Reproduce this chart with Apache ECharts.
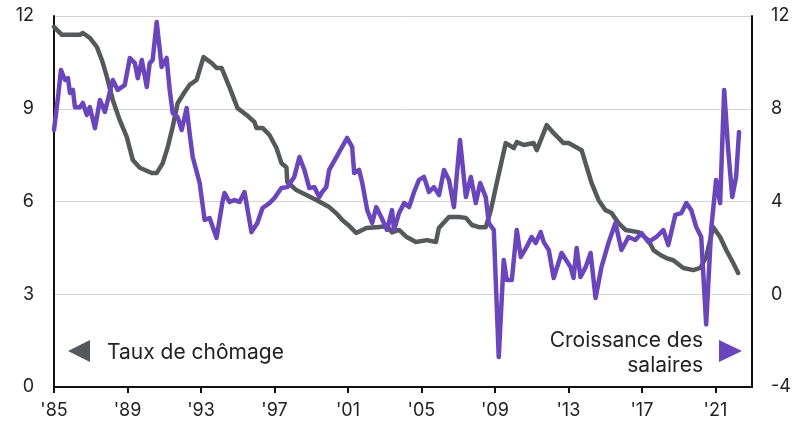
<!DOCTYPE html>
<html lang="fr">
<head>
<meta charset="UTF-8">
<title>Chômage et salaires</title>
<script src="https://cdn.jsdelivr.net/npm/echarts@6/dist/echarts.min.js"></script>
<style>
  html, body { margin: 0; padding: 0; background: #fff; }
  #main { width: 794px; height: 425px; }
</style>
</head>
<body>
<div id="main"></div>
<script>
// taux de chômage (axe gauche)
var chomageAnnees = [1985.0, 1985.43, 1986.41, 1986.57, 1986.95, 1987.33, 1987.61, 1987.88, 1988.2, 1988.58,
  1988.96, 1989.29, 1989.67, 1990.32, 1990.59, 1990.92, 1991.19, 1991.46, 1991.73, 1992.11,
  1992.38, 1992.76, 1993.14, 1993.58, 1993.85, 1994.12, 1994.55, 1994.99, 1995.48, 1995.91,
  1996.02, 1996.35, 1996.73, 1997.11, 1997.38, 1997.65, 1997.7, 1998.19, 1998.74, 1999.28,
  1999.98, 2000.4, 2000.69, 2001.0, 2001.45, 2002.0, 2002.54, 2003.13, 2003.4, 2003.78,
  2004.2, 2004.7, 2005.3, 2005.79, 2005.95, 2006.5, 2007.04, 2007.42, 2007.75, 2008.13,
  2008.5, 2008.78, 2009.1, 2009.59, 2010.03, 2010.19, 2010.57, 2011.11, 2011.28, 2011.82,
  2012.2, 2012.74, 2013.01, 2013.72, 2014.26, 2014.64, 2015.02, 2015.35, 2015.73, 2016.11,
  2016.81, 2017.36, 2017.63, 2018.01, 2018.33, 2018.71, 2019.26, 2019.8, 2020.18, 2020.5,
  2020.88, 2021.26, 2021.59, 2021.97, 2022.24];
var chomage = [11.65, 11.39, 11.39, 11.45, 11.29, 11.0, 10.57, 10.03, 9.28, 8.63,
  8.09, 7.34, 7.09, 6.92, 6.92, 7.24, 7.76, 8.41, 9.18, 9.54,
  9.77, 9.93, 10.67, 10.48, 10.32, 10.32, 9.7, 9.02, 8.8, 8.57,
  8.38, 8.38, 8.15, 7.73, 7.24, 7.11, 6.63, 6.37, 6.21, 6.05,
  5.82, 5.6, 5.4, 5.25, 4.98, 5.14, 5.17, 5.2, 5.0, 5.08,
  4.85, 4.69, 4.75, 4.69, 5.14, 5.5, 5.5, 5.47, 5.24, 5.17,
  5.17, 5.72, 6.6, 7.89, 7.73, 7.92, 7.83, 7.89, 7.66, 8.47,
  8.21, 7.89, 7.89, 7.66, 6.6, 6.05, 5.72, 5.63, 5.3, 5.08,
  5.01, 4.75, 4.43, 4.27, 4.17, 4.1, 3.85, 3.78, 3.85, 4.2,
  5.17, 4.85, 4.43, 4.01, 3.69];

// croissance des salaires (axe droit)
var salairesAnnees = [1985.0, 1985.22, 1985.38, 1985.6, 1985.76, 1985.87, 1986.03, 1986.14, 1986.41, 1986.57,
  1986.79, 1986.95, 1987.23, 1987.5, 1987.77, 1987.93, 1988.2, 1988.47, 1988.85, 1989.13,
  1989.4, 1989.56, 1989.78, 1990.05, 1990.21, 1990.37, 1990.59, 1990.86, 1991.13, 1991.3,
  1991.46, 1991.73, 1991.95, 1992.22, 1992.38, 1992.55, 1992.93, 1993.2, 1993.47, 1993.85,
  1994.17, 1994.28, 1994.55, 1994.83, 1995.1, 1995.37, 1995.75, 1996.07, 1996.35, 1996.73,
  1997.0, 1997.38, 1997.7, 1998.08, 1998.36, 1998.63, 1998.9, 1999.17, 1999.44, 1999.6,
  1999.82, 1999.98, 2000.96, 2001.23, 2001.34, 2001.61, 2001.78, 2002.05, 2002.32, 2002.54,
  2002.81, 2003.13, 2003.4, 2003.51, 2003.78, 2004.06, 2004.33, 2004.6, 2004.87, 2005.14,
  2005.41, 2005.68, 2005.96, 2006.23, 2006.5, 2006.77, 2007.1, 2007.42, 2007.69, 2007.96,
  2008.2, 2008.5, 2008.67, 2008.94, 2009.21, 2009.48, 2009.65, 2009.92, 2010.19, 2010.41,
  2010.73, 2011.0, 2011.22, 2011.49, 2011.66, 2011.93, 2012.2, 2012.63, 2013.12, 2013.28,
  2013.45, 2013.66, 2013.94, 2014.21, 2014.48, 2014.8, 2015.18, 2015.56, 2015.89, 2016.27,
  2016.65, 2016.98, 2017.36, 2017.79, 2018.17, 2018.44, 2018.82, 2019.15, 2019.42, 2019.69,
  2019.96, 2020.23, 2020.5, 2020.77, 2021.04, 2021.26, 2021.48, 2021.7, 2021.92, 2022.13,
  2022.29];
var salaires = [7.08, 8.51, 9.67, 9.24, 9.32, 8.68, 8.81, 8.07, 8.07, 8.25,
  7.73, 8.07, 7.16, 8.38, 7.86, 8.38, 9.24, 8.81, 9.02, 10.19,
  9.97, 9.32, 10.1, 8.94, 9.97, 10.1, 11.74, 9.8, 10.19, 8.81,
  7.82, 7.64, 7.08, 8.03, 6.95, 5.92, 4.8, 3.2, 3.29, 2.43,
  3.98, 4.37, 3.98, 4.06, 3.98, 4.41, 2.68, 3.07, 3.72, 3.93,
  4.15, 4.58, 4.62, 5.06, 5.92, 5.36, 4.58, 4.62, 4.19, 4.41,
  4.62, 5.36, 6.74, 6.35, 5.23, 5.36, 4.8, 3.63, 3.07, 3.76,
  3.33, 2.77, 3.63, 2.77, 3.5, 3.93, 3.76, 4.41, 4.93, 5.06,
  4.41, 4.62, 4.28, 5.36, 4.93, 3.76, 6.65, 4.19, 5.06, 3.93,
  4.8, 4.19, 3.07, 2.77, -2.71, 1.48, 0.61, 0.61, 2.77, 1.61,
  2.04, 2.47, 2.21, 2.68, 2.25, 1.91, 0.7, 1.78, 1.17, 0.7,
  1.99, 0.74, 1.17, 1.78, -0.16, 1.17, 2.21, 3.07, 1.91, 2.47,
  2.34, 2.64, 2.25, 2.47, 2.77, 2.12, 3.42, 3.5, 3.93, 3.63,
  2.9, 2.47, -1.3, 2.77, 4.93, 3.93, 8.81, 6.22, 4.19, 5.06,
  7.0];

var xMin = 1985, xMax = 2023, xStep = 4;
var gaucheTicks = [0, 3, 6, 9, 12];
var droiteTicks = [-4, 0, 4, 8, 12];

var gris = '#55595c';
var violet = '#6a45bb';
var police = 'Inter, "Noto Sans", sans-serif';

function paires(xs, ys) {
  var out = [];
  for (var i = 0; i < xs.length; i++) out.push([xs[i], ys[i]]);
  return out;
}

var myChart = echarts.init(document.getElementById('main'), null, { renderer: 'canvas' });

myChart.setOption({
  animation: false,
  backgroundColor: '#fff',
  grid: { left: 54, right: 41, top: 16, bottom: 38 },
  xAxis: {
    type: 'value',
    min: xMin, max: xMax, interval: xStep,
    axisLine: { show: true, lineStyle: { color: '#111', width: 2 } },
    axisTick: { show: true, length: 6, lineStyle: { color: '#111', width: 2 } },
    splitLine: { show: false },
    axisLabel: {
      showMaxLabel: false,
      margin: 15,
      fontSize: 18, color: '#222', fontFamily: police,
      formatter: function (v) { return "'" + String(v).slice(2); }
    }
  },
  yAxis: [{
    type: 'value',
    min: gaucheTicks[0], max: gaucheTicks[gaucheTicks.length - 1], interval: 3,
    axisLine: { show: true, lineStyle: { color: '#111', width: 2 } },
    axisTick: { show: false },
    splitLine: { show: true, lineStyle: { color: '#d3d3d3', width: 1 } },
    axisLabel: { margin: 20, fontSize: 18, color: '#222', fontFamily: police }
  }, {
    type: 'value',
    position: 'right',
    min: droiteTicks[0], max: droiteTicks[droiteTicks.length - 1], interval: 4,
    axisLine: { show: true, lineStyle: { color: '#111', width: 2 } },
    axisTick: { show: false },
    splitLine: { show: false },
    axisLabel: { margin: 19, fontSize: 18, color: '#222', fontFamily: police }
  }],
  series: [{
    name: 'Taux de chômage',
    type: 'line',
    yAxisIndex: 0,
    showSymbol: false,
    lineStyle: { color: gris, width: 4.5, join: 'round', cap: 'round' },
    data: paires(chomageAnnees, chomage)
  }, {
    name: 'Croissance des salaires',
    type: 'line',
    yAxisIndex: 1,
    showSymbol: false,
    lineStyle: { color: violet, width: 4.5, join: 'round', cap: 'round' },
    data: paires(salairesAnnees, salaires)
  }],
  graphic: [
    { type: 'polygon', shape: { points: [[68, 351], [90, 340], [90, 362]] }, style: { fill: gris } },
    { type: 'text', x: 107, y: 353, style: { text: 'Taux de chômage', verticalAlign: 'middle', fill: '#222', font: '21px ' + police } },
    { type: 'text', x: 703, y: 328, style: { text: 'Croissance des\nsalaires', align: 'right', verticalAlign: 'top', lineHeight: 25, fill: '#222', font: '21px ' + police } },
    { type: 'polygon', shape: { points: [[719, 340], [742, 351], [719, 362]] }, style: { fill: violet } }
  ]
});
</script>
</body>
</html>
